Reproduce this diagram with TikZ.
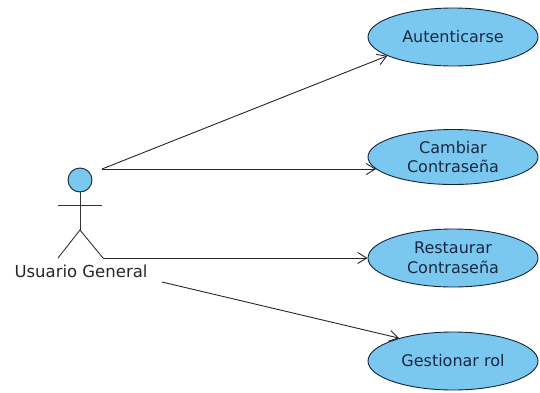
\documentclass[tikz,border=0pt]{standalone}
\usepackage{fontspec}
\setmainfont{DejaVu Sans}
\usetikzlibrary{shapes.geometric,arrows.meta}
\definecolor{ucfill}{RGB}{122,200,240}
\definecolor{ucline}{RGB}{20,35,55}
\definecolor{uctext}{RGB}{25,40,65}
\tikzset{
  usecase/.style={ellipse, draw=ucline, line width=0.9pt, fill=ucfill,
    minimum width=170pt, minimum height=58pt, inner sep=0pt, align=center,
    text=uctext, font=\fontsize{16}{19.5}\selectfont},
  actorline/.style={draw=black!80, line width=0.9pt},
  assoc/.style={draw=black!85, line width=0.9pt,
    -{Straight Barb[length=9pt,width=11pt,line width=0.9pt]}}
}
\begin{document}
\begin{tikzpicture}[x=1pt,y=-1pt]
\useasboundingbox (0,0) rectangle (540,392);
% use cases
\node[usecase] (auth) at (453,37) {Autenticarse};
\node[usecase, minimum height=55pt] (cam) at (453,157) {Cambiar\\Contraseña};
\node[usecase] (rest) at (453,258) {Restaurar\\Contraseña};
\node[usecase] (gest) at (453,361) {Gestionar rol};
% actor
\node[circle, draw=ucline, line width=0.9pt, fill=ucfill, minimum size=24pt, inner sep=0pt] (head) at (80,180) {};
\coordinate (hip) at (80,230);
\coordinate (lfoot) at (58,258);
\coordinate (rfoot) at (103,258);
\coordinate (larm) at (58,205);
\coordinate (rarm) at (102,205);
\draw[actorline] (head.south) -- (hip);
\draw[actorline] (larm) -- (rarm);
\draw[actorline] (lfoot) -- (hip) -- (rfoot);
\node[font=\fontsize{16.5}{18}\selectfont, text=black!85] (lbl) at (81,271) {Usuario General};
% association ends at the actor
\coordinate (a1) at (102,169);
\coordinate (a4) at (162,282);
% associations
\draw[assoc] (a1) -- (auth.196);
\draw[assoc] (a1) -- (cam.189 |- a1);
\draw[assoc] (rfoot) -- (rest.west);
\draw[assoc] (a4) -- (gest.157);
\end{tikzpicture}
\end{document}
